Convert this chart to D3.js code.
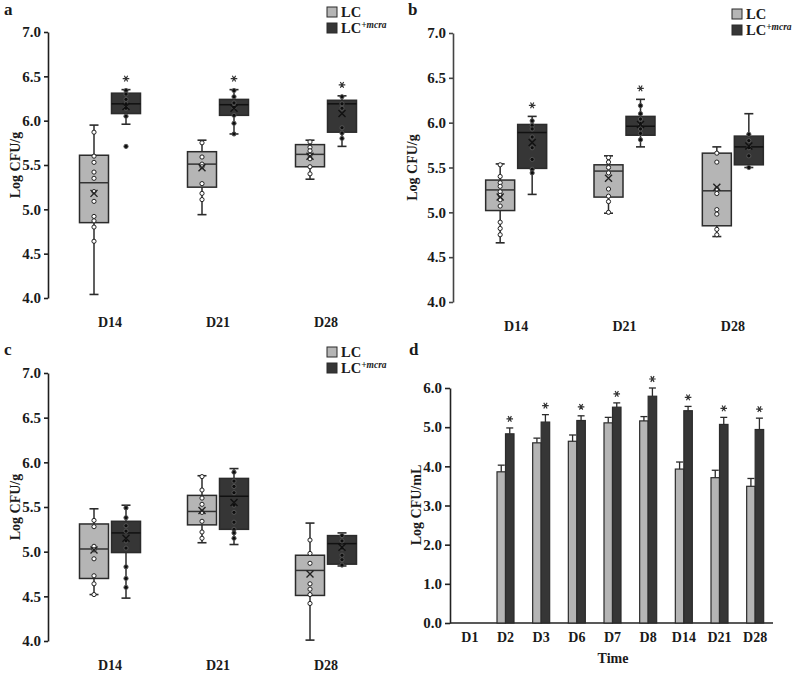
<!DOCTYPE html>
<html>
<head>
<meta charset="utf-8">
<script src="https://cdn.jsdelivr.net/npm/d3@7"></script>
<style>
  html, body { margin: 0; padding: 0; background: #fff; }
  svg { display: block; }
  text { font-family: "Liberation Serif", "Times New Roman", serif; fill: #1a1a1a; }
</style>
</head>
<body>
<svg id="chart" width="800" height="676"></svg>
<script>
// ---------------- DATA ----------------
const boxCategories = ["D14", "D21", "D28"];
const seriesNames = ["LC", "LC+mcra"];
const boxTicks = [4.0, 4.5, 5.0, 5.5, 6.0, 6.5, 7.0];

// stats: [whiskerLow, q1, median, q3, whiskerHigh, mean]
const aLCStats = [[4.04, 4.85, 5.30, 5.61, 5.95, 5.18], [4.94, 5.25, 5.51, 5.65, 5.78, 5.47], [5.34, 5.48, 5.62, 5.73, 5.78, 5.60]];
const aMCStats = [[5.96, 6.08, 6.19, 6.31, 6.35, 6.16], [5.85, 6.06, 6.18, 6.24, 6.35, 6.14], [5.71, 5.87, 6.19, 6.23, 6.28, 6.08]];
const aLCPoints = [[5.87, 5.60, 5.53, 5.42, 5.35, 5.20, 5.09, 4.92, 4.87, 4.80, 4.64],
                   [5.75, 5.59, 5.51, 5.48, 5.29, 5.18, 5.11],
                   [5.76, 5.70, 5.66, 5.61, 5.57, 5.48, 5.40]];
const aMCPoints = [[6.34, 6.30, 6.24, 6.19, 6.14, 6.05, 5.71],
                   [6.34, 6.27, 6.20, 6.15, 6.06, 5.97, 5.85],
                   [6.27, 6.19, 6.14, 5.92, 5.86, 5.80]];
const aStars = [true, true, true];

const bLCStats = [[4.66, 5.02, 5.25, 5.36, 5.54, 5.17], [4.99, 5.17, 5.46, 5.53, 5.63, 5.38], [4.73, 4.85, 5.24, 5.66, 5.73, 5.28]];
const bMCStats = [[5.20, 5.49, 5.89, 5.98, 6.07, 5.78], [5.73, 5.86, 5.96, 6.07, 6.26, 5.98], [5.50, 5.53, 5.73, 5.85, 6.10, 5.74]];
const bLCPoints = [[5.53, 5.40, 5.33, 5.29, 5.23, 5.19, 5.14, 5.07, 4.89, 4.82, 4.75],
                   [5.61, 5.56, 5.50, 5.44, 5.26, 5.18, 5.12, 5.00],
                   [5.66, 5.56, 5.26, 5.21, 5.03, 4.98, 4.81, 4.75]];
const bMCPoints = [[6.02, 5.97, 5.93, 5.84, 5.72, 5.59, 5.48, 5.44],
                   [6.19, 6.10, 6.04, 5.99, 5.93, 5.88, 5.81],
                   [5.87, 5.80, 5.72, 5.63, 5.50]];
const bStars = [true, true, false];

const cLCStats = [[4.52, 4.70, 5.03, 5.31, 5.48, 5.02], [5.10, 5.30, 5.45, 5.63, 5.85, 5.46], [4.01, 4.51, 4.79, 4.96, 5.32, 4.75]];
const cMCStats = [[4.48, 4.99, 5.21, 5.34, 5.52, 5.15], [5.08, 5.25, 5.62, 5.82, 5.93, 5.55], [4.84, 4.86, 5.09, 5.18, 5.21, 5.05]];
const cLCPoints = [[5.35, 5.28, 5.06, 5.02, 4.92, 4.73, 4.64, 4.52],
                   [5.84, 5.69, 5.60, 5.53, 5.44, 5.34, 5.22, 5.15],
                   [5.13, 4.98, 4.87, 4.64, 4.58, 4.52, 4.42]];
const cMCPoints = [[5.49, 5.38, 5.29, 5.23, 5.12, 5.04, 4.83, 4.70, 4.60],
                   [5.89, 5.79, 5.73, 5.66, 5.52, 5.44, 5.33, 5.25, 5.21, 5.15],
                   [5.18, 5.12, 5.04, 4.96, 4.91, 4.85]];
const cStars = [false, false, false];

const dCategories = ["D1", "D2", "D3", "D6", "D7", "D8", "D14", "D21", "D28"];
const dTicks = [0, 1, 2, 3, 4, 5, 6];
const dLC    = [0, 3.86, 4.60, 4.64, 5.11, 5.16, 3.93, 3.71, 3.49];
const dLCErr = [0, 0.17, 0.12, 0.16, 0.14, 0.11, 0.18, 0.19, 0.20];
const dMC    = [0, 4.83, 5.13, 5.17, 5.51, 5.79, 5.42, 5.07, 4.94];
const dMCErr = [0, 0.15, 0.19, 0.12, 0.11, 0.21, 0.11, 0.18, 0.29];
const dStars = [false, true, true, true, true, true, true, true, true];

// ---------------- STYLE ----------------
const LIGHT = "#b5b5b5", DARK = "#363636", STROKE = "#2b2b2b";
const svg = d3.select("#chart");
svg.append("rect").attr("width", 800).attr("height", 676).attr("fill", "#fff");
const starPath = d3.symbol(d3.symbolAsterisk, 30)();

function star(g, cx, cy) {
  g.append("path").attr("d", starPath).attr("transform", `translate(${cx},${cy}) rotate(90)`)
    .attr("fill", "none").attr("stroke", "#333").attr("stroke-width", 1.2);
}

function legend(g, x, y) {
  const lg = g.append("g").attr("transform", `translate(${x},${y})`);
  [[LIGHT, "LC", false], [DARK, "LC", true]].forEach((d, i) => {
    lg.append("rect").attr("x", 0).attr("y", i * 16).attr("width", 10).attr("height", 10)
      .attr("fill", d[0]).attr("stroke", STROKE).attr("stroke-width", 1);
    const t = lg.append("text").attr("x", 14).attr("y", i * 16 + 10).attr("font-size", 14.5)
      .attr("font-weight", "bold").text(d[1]);
    if (d[2]) t.append("tspan").attr("dy", -5).attr("font-size", 9.5).attr("font-style", "italic").text("+mcra");
  });
}

function boxPanel(opt) {
  const g = svg.append("g");
  const y = d3.scaleLinear().domain([4, 7]).range([opt.y0, opt.y1]);
  const x = d3.scaleBand().domain(boxCategories).range(opt.xr);
  const ax = g.append("g").attr("transform", `translate(${opt.ax},0)`)
    .call(d3.axisLeft(y).tickValues(boxTicks).tickFormat(d3.format(".1f")).tickSize(4).tickSizeOuter(0).tickPadding(3));
  ax.select(".domain").attr("stroke", opt.axc).attr("stroke-width", 1.6);
  ax.selectAll(".tick line").attr("stroke", opt.axc).attr("stroke-width", 1.6);
  ax.selectAll(".tick text").attr("font-family", "Liberation Serif").attr("font-size", 15)
    .attr("font-weight", "bold").attr("fill", "#1a1a1a");
  g.selectAll(".xl").data(boxCategories).enter().append("text")
    .attr("x", d => x(d) + x.bandwidth() / 2).attr("y", opt.xly)
    .attr("text-anchor", "middle").attr("font-size", 14).attr("font-weight", "bold").text(d => d);
  g.append("text").attr("transform", `translate(${opt.ylx},${(opt.y0 + opt.y1) / 2}) rotate(-90)`)
    .attr("text-anchor", "middle").attr("font-size", 14).attr("font-weight", "bold").text("Log CFU/g");
  g.append("text").attr("x", opt.lx).attr("y", opt.ly).attr("font-size", 17).attr("font-weight", "bold").text(opt.letter);

  const bw = 29, off = 16;
  const series = [
    { stats: opt.lcStats, pts: opt.lcPts, fill: LIGHT, dx: -off, ptFill: "#fff", ptStroke: "#222", med: "#333", mean: "#222" },
    { stats: opt.mcStats, pts: opt.mcPts, fill: DARK, dx: off, ptFill: "#0e0e0e", ptStroke: "#555", med: "#111", mean: "#111" }
  ];
  series.forEach(s => {
    boxCategories.forEach((c, i) => {
      const cx = x(c) + x.bandwidth() / 2 + s.dx;
      const [lo, q1, med, q3, hi, mean] = s.stats[i];
      const bg = g.append("g");
      bg.append("line").attr("x1", cx).attr("x2", cx).attr("y1", y(hi)).attr("y2", y(q3)).attr("stroke", STROKE).attr("stroke-width", 1.5);
      bg.append("line").attr("x1", cx).attr("x2", cx).attr("y1", y(lo)).attr("y2", y(q1)).attr("stroke", STROKE).attr("stroke-width", 1.5);
      [hi, lo].forEach(v => bg.append("line").attr("x1", cx - 4.5).attr("x2", cx + 4.5).attr("y1", y(v)).attr("y2", y(v))
        .attr("stroke", STROKE).attr("stroke-width", 1.6));
      bg.append("rect").attr("x", cx - bw / 2).attr("width", bw).attr("y", y(q3)).attr("height", y(q1) - y(q3))
        .attr("fill", s.fill).attr("stroke", STROKE).attr("stroke-width", 1.5);
      bg.append("line").attr("x1", cx - bw / 2).attr("x2", cx + bw / 2).attr("y1", y(med)).attr("y2", y(med))
        .attr("stroke", s.med).attr("stroke-width", 1.5);
      bg.selectAll("circle").data(s.pts[i]).enter().append("circle")
        .attr("cx", cx).attr("cy", d => y(d)).attr("r", 2.1)
        .attr("fill", s.ptFill).attr("stroke", s.ptStroke).attr("stroke-width", 1);
      const m = 3.5, my = y(mean);
      bg.append("path").attr("d", `M${cx - m},${my - m}L${cx + m},${my + m}M${cx - m},${my + m}L${cx + m},${my - m}`)
        .attr("stroke", s.mean).attr("stroke-width", 1.4).attr("fill", "none");
      if (s.dx > 0 && opt.stars[i]) star(bg, cx, y(hi) - 11);
    });
  });
  legend(g, opt.legx, opt.legy);
}

boxPanel({ letter: "a", lx: 4, ly: 15, ax: 48, y0: 298, y1: 32, xr: [56, 380], xly: 327, ylx: 20, axc: "#1e1e1e",
  lcStats: aLCStats, mcStats: aMCStats, lcPts: aLCPoints, mcPts: aMCPoints, stars: aStars, legx: 327, legy: 7 });
boxPanel({ letter: "b", lx: 408, ly: 15, ax: 453, y0: 302, y1: 33, xr: [462, 787], xly: 331, ylx: 417, axc: "#444",
  lcStats: bLCStats, mcStats: bMCStats, lcPts: bLCPoints, mcPts: bMCPoints, stars: bStars, legx: 732, legy: 9 });
boxPanel({ letter: "c", lx: 4, ly: 355, ax: 48, y0: 641, y1: 373, xr: [56, 380], xly: 670, ylx: 20, axc: "#1e1e1e",
  lcStats: cLCStats, mcStats: cMCStats, lcPts: cLCPoints, mcPts: cMCPoints, stars: cStars, legx: 327, legy: 347 });

// ---------------- PANEL D (bars) ----------------
(function () {
  const g = svg.append("g");
  const y = d3.scaleLinear().domain([0, 6]).range([623, 388]);
  const x = d3.scaleBand().domain(dCategories).range([452, 773]);
  const ax = g.append("g").attr("transform", "translate(450,0)")
    .call(d3.axisLeft(y).tickValues(dTicks).tickFormat(d3.format(".1f")).tickSize(5).tickSizeOuter(0).tickPadding(3));
  ax.select(".domain").attr("stroke", "#222").attr("stroke-width", 1.6);
  ax.selectAll(".tick line").attr("stroke", "#222").attr("stroke-width", 1.6);
  ax.selectAll(".tick text").attr("font-family", "Liberation Serif").attr("font-size", 15)
    .attr("font-weight", "bold").attr("fill", "#1a1a1a");
  const xa = g.append("g").attr("transform", `translate(0,${y(0)})`)
    .call(d3.axisBottom(x).tickSize(0).tickPadding(9));
  xa.select(".domain").attr("d", `M450,0H773`).attr("stroke", "#222").attr("stroke-width", 1.6);
  xa.selectAll(".tick text").attr("font-family", "Liberation Serif").attr("font-size", 14)
    .attr("font-weight", "bold").attr("fill", "#1a1a1a");
  g.append("text").attr("x", 613).attr("y", 663).attr("text-anchor", "middle")
    .attr("font-size", 14).attr("font-weight", "bold").text("Time");
  g.append("text").attr("transform", `translate(421,505) rotate(-90)`).attr("text-anchor", "middle")
    .attr("font-size", 14).attr("font-weight", "bold").text("Log CFU/mL");
  g.append("text").attr("x", 409).attr("y", 355).attr("font-size", 17).attr("font-weight", "bold").text("d");

  const bw = 8.5;
  const sets = [
    { vals: dLC, errs: dLCErr, fill: LIGHT, dx: -bw, star: false },
    { vals: dMC, errs: dMCErr, fill: DARK, dx: 0, star: true }
  ];
  sets.forEach(s => {
    dCategories.forEach((c, i) => {
      const v = s.vals[i];
      if (v <= 0) return;
      const cx = x(c) + x.bandwidth() / 2;
      const bx = cx + s.dx;
      g.append("rect").attr("x", bx).attr("width", bw).attr("y", y(v)).attr("height", y(0) - y(v))
        .attr("fill", s.fill).attr("stroke", STROKE).attr("stroke-width", 1.2);
      const ex = bx + bw / 2, et = y(v + s.errs[i]);
      g.append("line").attr("x1", ex).attr("x2", ex).attr("y1", y(v)).attr("y2", et).attr("stroke", STROKE).attr("stroke-width", 1.3);
      g.append("line").attr("x1", ex - 3.5).attr("x2", ex + 3.5).attr("y1", et).attr("y2", et).attr("stroke", STROKE).attr("stroke-width", 1.3);
      if (s.star && dStars[i]) star(g, ex, et - 9);
    });
  });
})();
</script>
</body>
</html>
